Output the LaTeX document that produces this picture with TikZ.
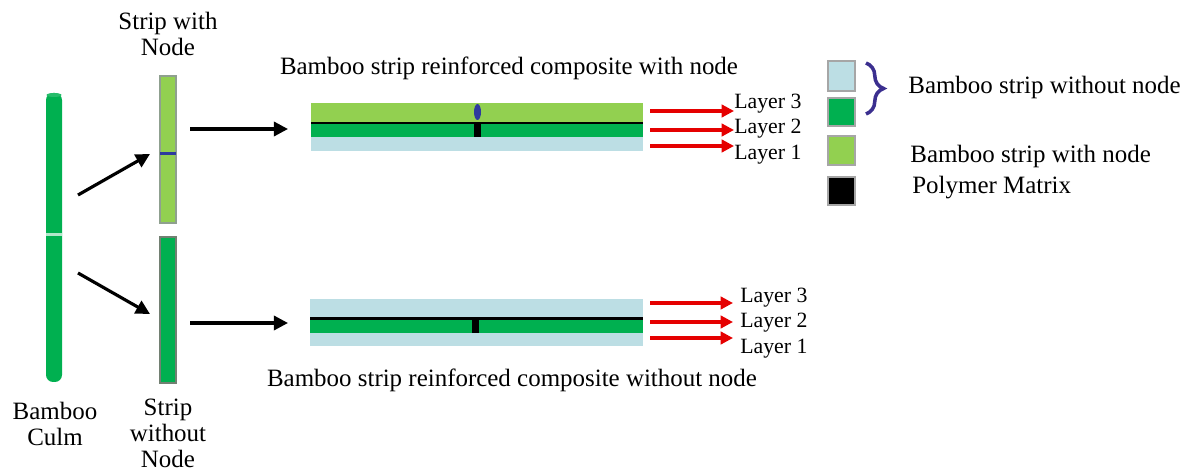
\documentclass[tikz,border=0pt]{standalone}
\usepackage{fontspec}
\setmainfont{Liberation Serif}
\usetikzlibrary{arrows.meta,decorations.pathreplacing}
\definecolor{lgreen}{HTML}{92D050}
\definecolor{dgreen}{HTML}{00B050}
\definecolor{lblue}{HTML}{BCDEE4}
\definecolor{nodeblue}{HTML}{2E3A9E}
\definecolor{bracec}{HTML}{3B2F8F}
\definecolor{edge}{HTML}{8FA08F}
\begin{document}
\begin{tikzpicture}[x=0.02cm,y=-0.02cm,
  font=\fontsize{14.2}{14.8}\selectfont,
  lbl/.style={inner sep=0pt,align=center},
  laylbl/.style={inner sep=0pt,anchor=west,font=\fontsize{12.4}{14}\selectfont},
  blackarrow/.style={draw=black,line width=1.8pt,-{Triangle[length=8pt,width=8pt]}},
  redarrow/.style={draw=red!90!black,line width=2.2pt,-{Triangle[length=7pt,width=7pt]}},
  legbox/.style={draw=gray!70,line width=1pt}]
\useasboundingbox (0,0) rectangle (1192,472);

% Bamboo culm
\fill[dgreen,rounded corners=4] (46,93) rectangle (62,382);
\fill[dgreen!85!white] (54,95) ellipse (7.5 and 2);
\fill[white!70!dgreen] (46,233) rectangle (62,236);
\node[lbl] (culm) at (55,423.5) {Bamboo\\Culm};

% strip with node
\draw[edge,fill=lgreen,line width=1pt] (160,76) rectangle (176,223);
\fill[nodeblue] (160,152.5) rectangle (176,155.5);
\node[lbl] (swn) at (168,33.5) {Strip with\\Node};

% strip without node
\draw[edge!80!black,fill=dgreen,line width=1pt] (160,237) rectangle (176,383);
\node[lbl] (swon) at (168,433) {Strip\\without\\Node};

% arrows from culm to strips
\coordinate (c1) at (78,195);
\coordinate (s1) at (150,154);
\coordinate (c2) at (78,273);
\coordinate (s2) at (150,314);
\draw[blackarrow] (c1) -- (s1);
\draw[blackarrow] (c2) -- (s2);

% arrows from strips to composites
\coordinate (a1) at (190,129);
\coordinate (b1) at (288,129);
\coordinate (a2) at (190,323);
\coordinate (b2) at (288,323);
\draw[blackarrow] (a1) -- (b1);
\draw[blackarrow] (a2) -- (b2);

% upper composite
\fill[lgreen] (311,103) rectangle (643,122);
\fill[dgreen] (311,122) rectangle (643,137);
\fill[lblue] (311,137) rectangle (643,151);
\draw[black,line width=1.7pt] (311,123) -- (643,123);
\fill[black] (474,123) rectangle (481,137);
\fill[nodeblue] (477.5,112) ellipse (3.5 and 8);
\node[lbl] (t1) at (509,68) {Bamboo strip reinforced composite with node};

% lower composite
\fill[lblue] (310,299) rectangle (643,318);
\fill[dgreen] (310,318) rectangle (643,333);
\fill[lblue] (310,333) rectangle (643,346);
\draw[black,line width=1.7pt] (310,318.5) -- (643,318.5);
\fill[black] (472,318) rectangle (479,333);
\node[lbl] (t2) at (512,380) {Bamboo strip reinforced composite without node};

% red arrows upper
\node[laylbl] (u3) at (734,104) {Layer 3};
\node[laylbl] (u2) at (734,129) {Layer 2};
\node[laylbl] (u1) at (734,155) {Layer 1};
\coordinate (r13) at (650,111);
\coordinate (r12) at (650,130);
\coordinate (r11) at (650,146);
\draw[redarrow] (r13) -- (r13 -| u3.west);
\draw[redarrow] (r12) -- (r12 -| u2.west);
\draw[redarrow] (r11) -- (r11 -| u1.west);

% red arrows lower
\node[laylbl] (l3) at (740,298) {Layer 3};
\node[laylbl] (l2) at (740,323) {Layer 2};
\node[laylbl] (l1) at (740,349) {Layer 1};
\coordinate (r23) at (650,303);
\coordinate (r22) at (650,322);
\coordinate (r21) at (650,338);
\coordinate (e23) at (733,303);
\coordinate (e22) at (733,322);
\coordinate (e21) at (733,338);
\draw[redarrow] (r23) -- (e23);
\draw[redarrow] (r22) -- (e22);
\draw[redarrow] (r21) -- (e21);

% legend
\draw[legbox,fill=lblue] (828,61) rectangle (855,91);
\draw[legbox,fill=dgreen] (828,98) rectangle (855,126);
\draw[legbox,fill=lgreen] (828,136) rectangle (855,165);
\draw[legbox,fill=black] (828,177) rectangle (855,205);
\draw[bracec,line width=2pt,decorate,decoration={brace,amplitude=10pt,aspect=0.5}] (866,63) -- (866,114);
\node[lbl,anchor=west] (k1) at (908,88) {Bamboo strip without node};
\node[lbl,anchor=west] (k2) at (910,157) {Bamboo strip with node};
\node[lbl,anchor=west] (k3) at (912,188) {Polymer Matrix};
\end{tikzpicture}
\end{document}
